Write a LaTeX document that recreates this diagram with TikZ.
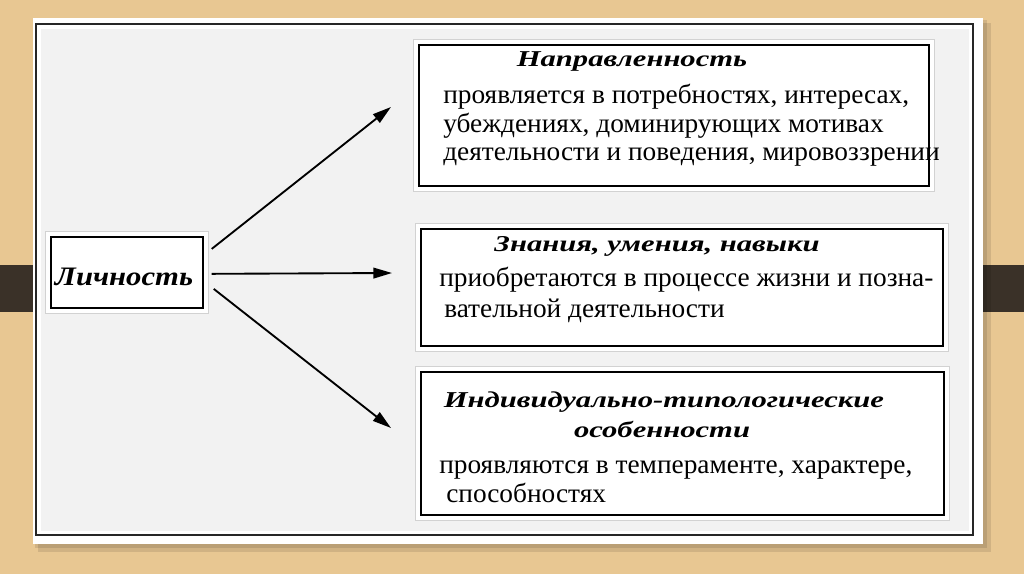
\documentclass[tikz,border=0pt]{standalone}
\usepackage{fontspec}
\usetikzlibrary{arrows.meta}
\setmainfont{Liberation Serif}
\newfontfamily\bodyfont{Liberation Serif}[FakeStretch=1.01]
\newfontfamily\titlefont{Liberation Serif}[FakeStretch=1.35]
\newfontfamily\lichfont{Liberation Serif}[FakeStretch=1.15]
\definecolor{wood}{RGB}{232,199,146}
\definecolor{band}{RGB}{58,49,40}
\definecolor{panel}{RGB}{242,242,242}
\begin{document}
\begin{tikzpicture}[x=0.75pt,y=-0.75pt,
  box/.style={draw=black, line width=1.3pt, fill=white, inner sep=0pt, anchor=north west,
    preaction={draw=gray!35, line width=9pt},
    preaction={draw=white, line width=7.5pt}},
  body/.style={inner sep=0pt, anchor=base west, font=\bodyfont\fontsize{20.3pt}{24pt}\selectfont},
  ttl/.style={inner sep=0pt, anchor=base, font=\titlefont\bfseries\itshape\fontsize{17pt}{20pt}\selectfont},
  arr/.style={line width=1.4pt, -{Triangle[length=14pt,width=8pt]}}]
\useasboundingbox (0,0) rectangle (1024,574);
% background
\fill[wood] (0,0) rectangle (1024,574);
\fill[band] (0,265) rectangle (1024,312);
\fill[black,opacity=0.10] (38,23) rectangle (991,552);
\fill[black,opacity=0.10] (35,20) rectangle (987,548);
\fill[white] (33,18) rectangle (983,544);
\fill[panel] (41,29) rectangle (969,531);
\draw[line width=1.2pt, black!85] (36,24) rectangle (973,535);
% boxes
\node[box, minimum width=114pt, minimum height=53.25pt] (lich) at (50,236) {};
\node[box, minimum width=382.5pt, minimum height=105.75pt] (top) at (418,44) {};
\node[box, minimum width=391.5pt, minimum height=87.75pt] (mid) at (420,228) {};
\node[box, minimum width=392.25pt, minimum height=107.25pt] (bot) at (420,371) {};
% texts
\node[inner sep=0pt, anchor=base, font=\lichfont\bfseries\itshape\fontsize{20pt}{24pt}\selectfont] (lichtxt) at (124,285) {Личность};
\node[ttl] (t1) at (632,67) {Направленность};
\node[body] (t1a) at (443,104) {проявляется в потребностях, интересах,};
\node[body] (t1b) at (443,133) {убеждениях, доминирующих мотивах};
\node[body] (t1c) at (443,161) {деятельности и поведения, мировоззрении};
\node[ttl] (t2) at (657,251) {Знания, умения, навыки};
\node[body] (t2a) at (439,286) {приобретаются в процессе жизни и позна-};
\node[body] (t2b) at (444,317) {вательной деятельности};
\node[ttl] (t3) at (664,407) {Индивидуально-типологические};
\node[ttl] (t3b) at (662,437) {особенности};
\node[body] (t3c) at (439,473) {проявляются в темпераменте, характере,};
\node[body] (t3d) at (446,502) {способностях};
% arrows
\coordinate (e1) at (391,107);
\coordinate (e2) at (392,273);
\coordinate (e3) at (391,428);
\draw[arr] ([xshift=6pt,yshift=17.6pt]lich.east) -- (e1);
\draw[arr] ([xshift=6pt,yshift=-1.1pt]lich.east) -- (e2);
\draw[arr] ([xshift=7.5pt,yshift=-12.4pt]lich.east) -- (e3);
\end{tikzpicture}
\end{document}
